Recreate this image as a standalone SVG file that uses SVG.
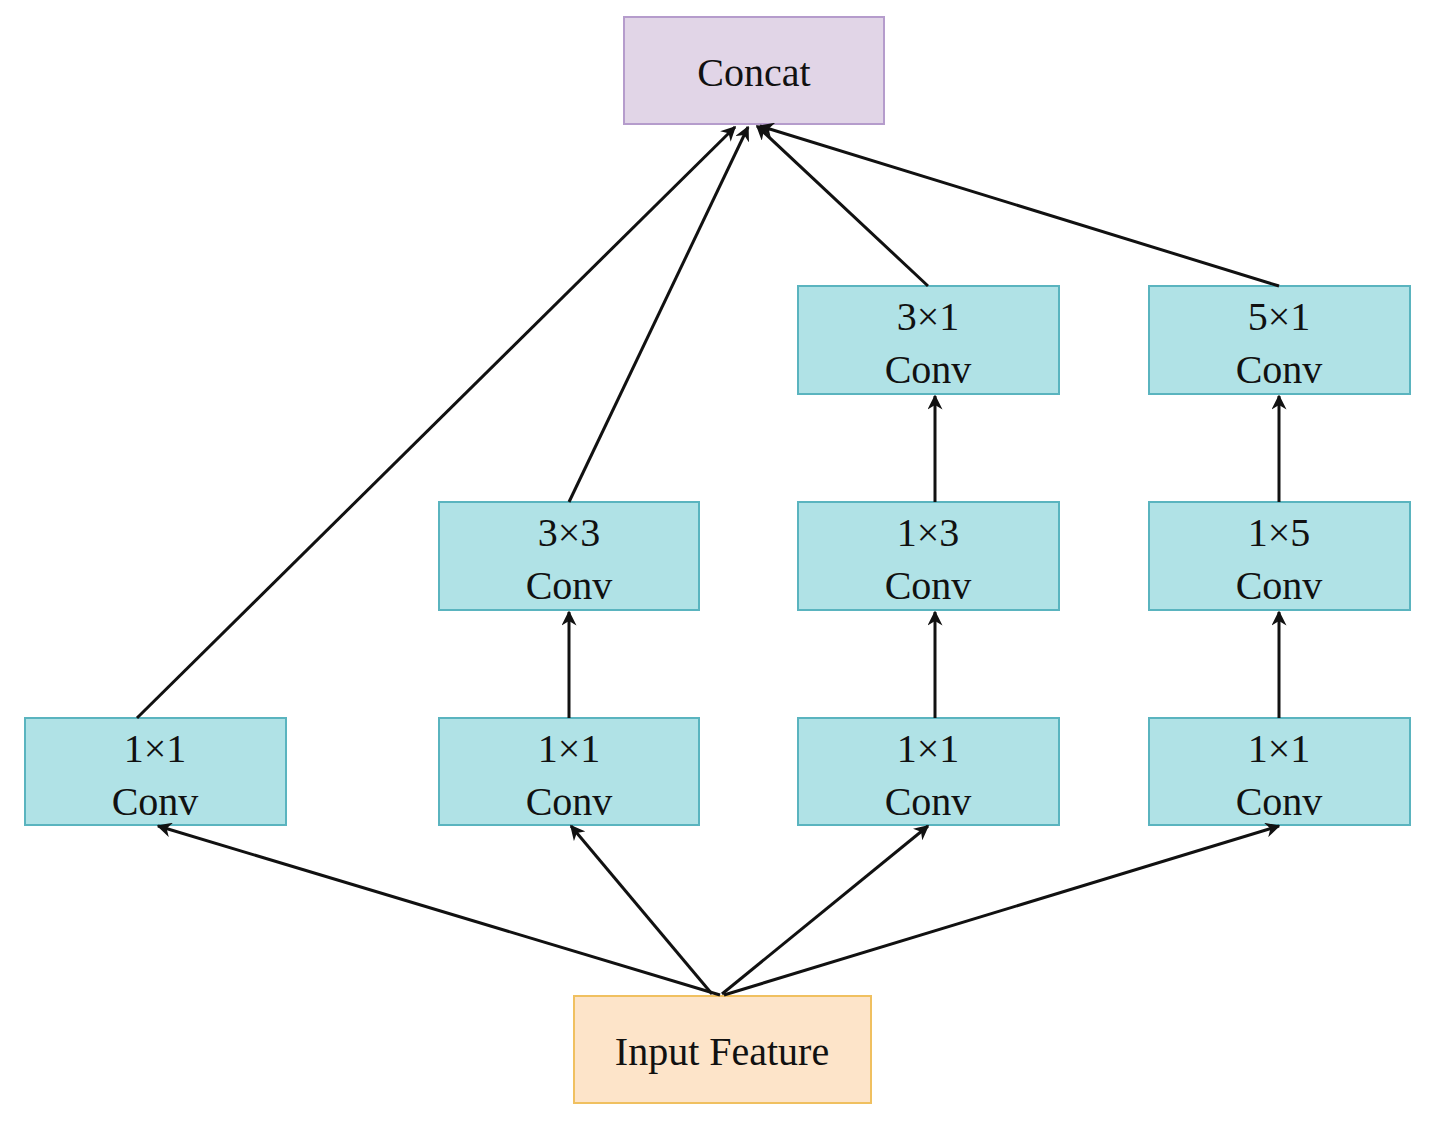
<svg xmlns="http://www.w3.org/2000/svg" width="1432" height="1125" viewBox="0 0 1432 1125">
<style>
.c{fill:#b0e2e6;stroke:#5ab4bf;stroke-width:2}
text{font-family:"Liberation Serif",serif;font-size:40px;fill:#111;text-anchor:middle}
.e{stroke:#111;stroke-width:3;fill:none;marker-end:url(#a)}
</style>
<defs><marker id="a" viewBox="0 0 10 10" refX="9" refY="5" markerWidth="5" markerHeight="5" orient="auto"><path d="M0,0L10,5L0,10L3,5z" fill="#111"/></marker></defs>
<rect width="1432" height="1125" fill="#fff"/>
<g id="concat"><rect x="624" y="17" width="260" height="107" fill="#e1d5e7" stroke="#b59ccc" stroke-width="2"/><text x="754" y="86">Concat</text></g>
<g id="input"><rect x="574" y="996" width="297" height="107" fill="#fde4c9" stroke="#f0c060" stroke-width="2"/><text x="722" y="1065">Input Feature</text></g>
<g id="n31"><rect class="c" x="798" y="286" width="261" height="108"/><text x="928" y="330">3×1</text><text x="928" y="383">Conv</text></g>
<g id="n51"><rect class="c" x="1149" y="286" width="261" height="108"/><text x="1279" y="330">5×1</text><text x="1279" y="383">Conv</text></g>
<g id="n33"><rect class="c" x="439" y="502" width="260" height="108"/><text x="569" y="546">3×3</text><text x="569" y="599">Conv</text></g>
<g id="n13"><rect class="c" x="798" y="502" width="261" height="108"/><text x="928" y="546">1×3</text><text x="928" y="599">Conv</text></g>
<g id="n15"><rect class="c" x="1149" y="502" width="261" height="108"/><text x="1279" y="546">1×5</text><text x="1279" y="599">Conv</text></g>
<g id="a1"><rect class="c" x="25" y="718" width="261" height="107"/><text x="155" y="762">1×1</text><text x="155" y="815">Conv</text></g>
<g id="b1"><rect class="c" x="439" y="718" width="260" height="107"/><text x="569" y="762">1×1</text><text x="569" y="815">Conv</text></g>
<g id="c1"><rect class="c" x="798" y="718" width="261" height="107"/><text x="928" y="762">1×1</text><text x="928" y="815">Conv</text></g>
<g id="d1"><rect class="c" x="1149" y="718" width="261" height="107"/><text x="1279" y="762">1×1</text><text x="1279" y="815">Conv</text></g>
<g id="connectors">
<path class="e" d="M137,718L735,127"/>
<path class="e" d="M569,502L748,127"/>
<path class="e" d="M928,286L757,126"/>
<path class="e" d="M1279,286L760,126"/>
<path class="e" d="M569,718L569,612"/>
<path class="e" d="M935,502L935,396"/>
<path class="e" d="M935,718L935,612"/>
<path class="e" d="M1279,502L1279,396"/>
<path class="e" d="M1279,718L1279,612"/>
<path class="e" d="M720,995L158,826"/>
<path class="e" d="M712,994L571,826"/>
<path class="e" d="M722,994L928,826"/>
<path class="e" d="M724,995L1279,826"/>
</g>
</svg>
